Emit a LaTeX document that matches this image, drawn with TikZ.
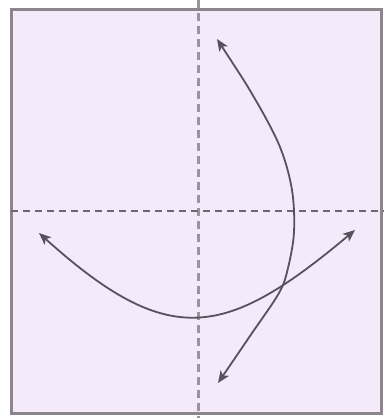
\documentclass[tikz,border=0pt]{standalone}
\usetikzlibrary{arrows.meta}
\definecolor{paper}{HTML}{F4EAF9}
\definecolor{frame}{HTML}{8A868C}
\definecolor{fold}{HTML}{58525E}
\definecolor{vfold}{HTML}{9A949E}
\definecolor{hfold}{HTML}{6E6874}
\tikzset{
  arrowline/.style={draw=fold, line width=1.8pt, {Stealth[length=12pt,width=10pt,inset=3pt]}-{Stealth[length=12pt,width=10pt,inset=3pt]}},
  valley/.style={draw=vfold, line width=3pt, dash pattern=on 8pt off 5pt},
  hvalley/.style={draw=hfold, line width=2pt, dash pattern=on 7pt off 5pt},
}
\begin{document}
\begin{tikzpicture}[x=1pt,y=-1pt]
\useasboundingbox (0,0) rectangle (384,418);
\fill[white] (0,0) rectangle (384,418);
\draw[fill=paper, draw=frame, line width=3pt] (11,9) rectangle (381,413);
\coordinate (vt) at (198,0);
\coordinate (vb) at (198,418);
\coordinate (hl) at (11,211);
\coordinate (hr) at (384,211);
\draw[valley] (vt) -- (vb);
\draw[hvalley] (hl) -- (hr);
\coordinate (a1) at (217,39);
\coordinate (a2) at (218,383);
\coordinate (b1) at (39,233);
\coordinate (b2) at (355,230);
\draw[arrowline] plot[smooth, tension=0.55] coordinates {(a1) (255,99) (280,147) (292,190) (294,232) (288,268) (279,293) (250,336) (a2)};
\draw[arrowline] (b1) .. controls (169,350) and (225,339) .. (b2);
\end{tikzpicture}
\end{document}
